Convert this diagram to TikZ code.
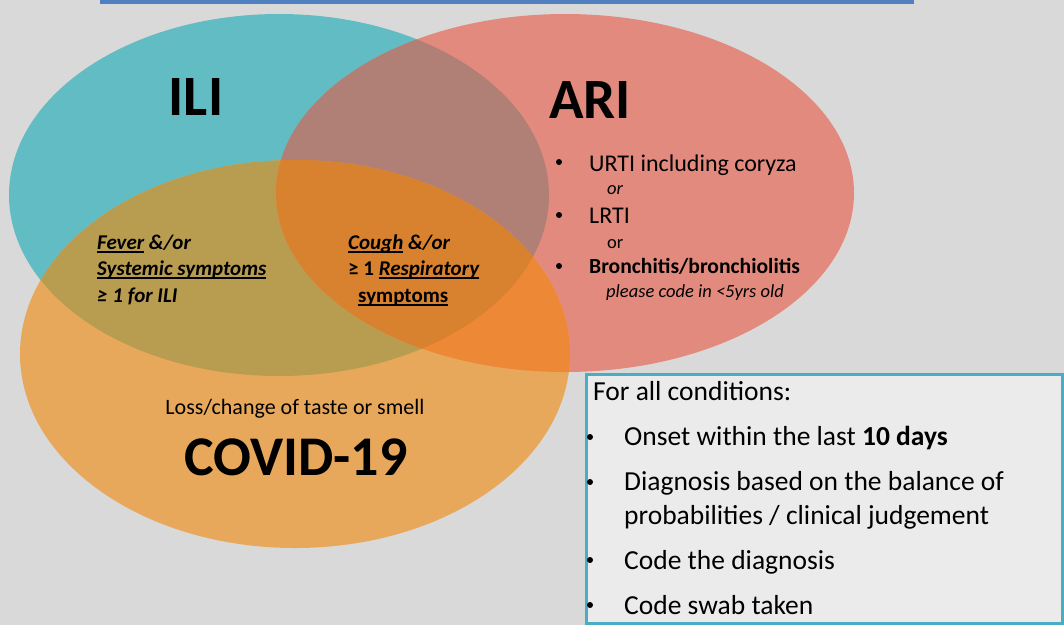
\documentclass[tikz,border=0pt]{standalone}
\usepackage{fontspec}
\setmainfont{Carlito}
\definecolor{bg}{HTML}{D9D9D9}
\definecolor{cteal}{HTML}{62BCC4}
\definecolor{cred}{HTML}{E38A7E}
\definecolor{corange}{HTML}{E8A85C}
\definecolor{ctr}{HTML}{B07F76}
\definecolor{cto}{HTML}{B89D51}
\definecolor{cro}{HTML}{EC8836}
\definecolor{call}{HTML}{D8822F}
\definecolor{topline}{HTML}{5080C0}
\definecolor{boxborder}{HTML}{4BACC6}
\definecolor{boxfill}{HTML}{EBEBEB}
\newcommand\myul[1]{\setbox0\hbox{#1}\rlap{\raisebox{-3.5pt}{\rule{\wd0}{1.5pt}}}\copy0\relax}
\begin{document}
\begin{tikzpicture}[x=1pt,y=-1pt,
  txt/.style={inner sep=0, anchor=base west, text=black},
  big/.style={inner sep=0, anchor=base, font=\fontsize{57}{60}\selectfont\bfseries},
  dot/.style={circle, fill=black, inner sep=0, minimum size=6pt},
  ovl/.style={font=\fontsize{21}{24}\selectfont\bfseries\itshape},
  ovlup/.style={font=\fontsize{21}{24}\selectfont\bfseries},
  sm/.style={font=\fontsize{18.5}{22}\selectfont},
  smit/.style={font=\fontsize{18.5}{22}\selectfont\itshape},
  ari/.style={font=\fontsize{24}{28}\selectfont},
  boxt/.style={font=\fontsize{27.5}{32}\selectfont}]
\useasboundingbox (0,0) rectangle (1064,625);
\fill[bg] (0,0) rectangle (1064,625);
\fill[topline] (100,-2) rectangle (914,4);
% ellipses
\def\Eteal{(279,195) ellipse [x radius=270pt, y radius=181pt]}
\def\Ered{(565,193) ellipse [x radius=289pt, y radius=179pt]}
\def\Eor{(295,354) ellipse [x radius=275pt, y radius=194pt]}
\fill[cteal] \Eteal;
\fill[cred] \Ered;
\fill[corange] \Eor;
\begin{scope}\clip \Eteal; \fill[ctr] \Ered; \end{scope}
\begin{scope}\clip \Eteal; \fill[cto] \Eor; \end{scope}
\begin{scope}\clip \Ered; \fill[cro] \Eor; \end{scope}
\begin{scope}\clip \Eteal; \clip \Ered; \fill[call] \Eor; \end{scope}
% titles
\node[big] (ili) at (196,115) {ILI};
\node[big] (ari) at (590,118) {ARI};
\node[big, font=\fontsize{56}{60}\selectfont\bfseries] (covid) at (296,475) {COVID-19};
\node[txt, anchor=base, font=\fontsize{22}{26}\selectfont] (loss) at (295,414) {Loss/change of taste or smell};
% left overlap text
\node[txt, ovl] (fever) at (97,249) {\myul{Fever} \&/or};
\node[txt, ovl] (syst) at (97,275) {\myul{Systemic symptoms}};
\node[txt, ovl] (ge1) at (97,302) {≥ 1 for ILI};
% middle overlap text
\node[txt, ovl] (cough) at (348,249) {\myul{Cough} \&/or};
\node[txt, ovlup] (resp) at (348,275) {≥ 1 \myul{\itshape Respiratory}};
\node[txt, ovlup] (symp) at (358,302) {\myul{symptoms}};
% ARI list
\node[dot] (b1) at (559,162) {};
\node[dot] (b2) at (559,215) {};
\node[dot] (b3) at (559,266) {};
\node[txt, ari] (urti) at (589,171) {URTI including coryza};
\node[txt, smit] (or1) at (607,194) {or};
\node[txt, ari] (lrti) at (589,223) {LRTI};
\node[txt, sm] (or2) at (607,248) {or};
\node[txt, font=\fontsize{21.6}{26}\selectfont\bfseries] (bron) at (589,273) {Bronchitis/bronchiolitis};
\node[txt, smit] (please) at (606,297) {please code in <5yrs old};
% box
\draw[boxborder, line width=3pt, fill=boxfill] (586.5,374.5) rectangle (1062.5,623.5);
\node[txt, boxt] (forall) at (593,400) {For all conditions:};
\node[dot] (c1) at (590,437) {};
\node[dot] (c2) at (590,482) {};
\node[dot] (c3) at (590,560) {};
\node[dot] (c4) at (590,605) {};
\node[txt, boxt] (onset) at (624,445) {Onset within the last \textbf{10 days}};
\node[txt, boxt] (diag1) at (624,490) {Diagnosis based on the balance of};
\node[txt, boxt] (diag2) at (624,524) {probabilities / clinical judgement};
\node[txt, boxt] (code1) at (624,569) {Code the diagnosis};
\node[txt, boxt] (code2) at (624,614) {Code swab taken};
\end{tikzpicture}
\end{document}
